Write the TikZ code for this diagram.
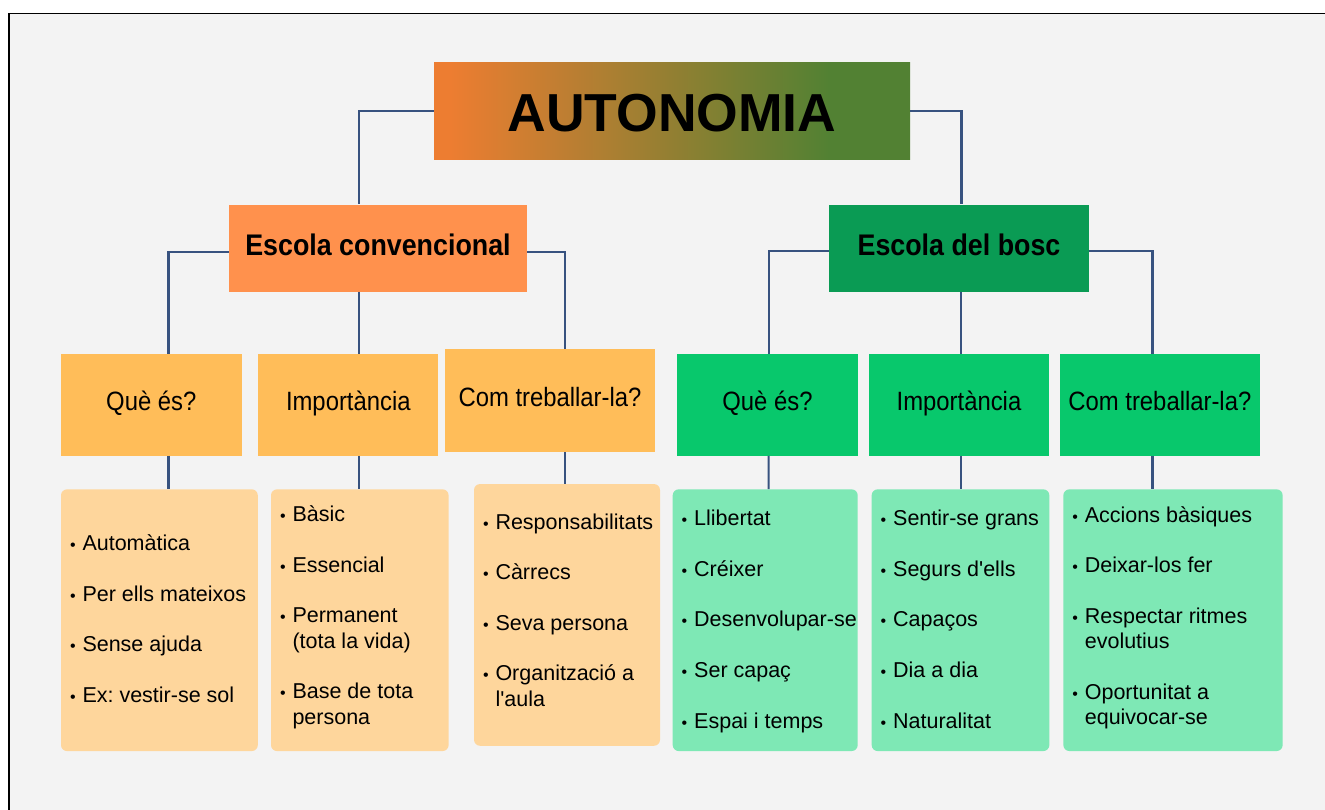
\documentclass[tikz,border=0pt]{standalone}
\usepackage{fontspec}
\setmainfont{Liberation Sans}
\newfontfamily\condfont[FakeStretch=0.9]{Liberation Sans}
\frenchspacing
\definecolor{bgc}{HTML}{F3F3F3}
\definecolor{conncol}{HTML}{37527F}
\definecolor{tor}{HTML}{ED7D31}
\definecolor{tgr}{HTML}{528133}
\definecolor{ecfill}{HTML}{FF914D}
\definecolor{ebfill}{HTML}{0A9B54}
\definecolor{otwo}{HTML}{FFBD59}
\definecolor{gtwo}{HTML}{08C86C}
\definecolor{othree}{HTML}{FED69C}
\definecolor{gthree}{HTML}{7EE8B5}
\pgfdeclarehorizontalshading{titleshade}{100bp}{color(0bp)=(tor); color(26.7bp)=(tor); color(66.5bp)=(tgr); color(100bp)=(tgr)}
\newcommand\bitem[1]{\makebox[12.5pt][l]{\fontsize{16}{16}\selectfont •}#1}
\newcommand\bcont[1]{\hspace*{12.5pt}#1}
\newcommand\topstr{\rule{0pt}{20pt}}
\tikzset{
  conn/.style={draw=conncol, line width=2.2pt},
  titlebox/.style={shading=titleshade, minimum width=476pt, minimum height=96.5pt, inner sep=0pt,
    font=\bfseries\fontsize{53.5}{55}\selectfont, text height=42pt, text depth=0.6pt},
  lvone/.style={inner sep=0pt, minimum height=87pt, font=\condfont\bfseries\fontsize{29.8}{31}\selectfont,
    text height=20.5pt, text depth=5pt},
  lvtwo/.style={inner sep=0pt, minimum height=102pt, font=\condfont\fontsize{26.5}{28}\selectfont,
    text height=19pt, text depth=8pt},
  boxthree/.style={rounded corners=6pt, inner sep=0pt, minimum height=261.7pt},
  items/.style={inner sep=0pt, anchor=north west, align=left, font=\fontsize{21.5}{25.3}\selectfont}
}
\begin{document}
\begin{tikzpicture}[x=1pt,y=-1pt]
\useasboundingbox (0,0) rectangle (1325,810);
\fill[white] (0,0) rectangle (1325,810);
\fill[bgc] (9,13.5) rectangle (1325,810);
\draw[black, line width=1.8pt] (9,810) -- (9,13.5) -- (1325,13.5);

% level 0
\node[titlebox] (title) at (672,111) {AUTONOMIA};
% level 1
\node[lvone, fill=ecfill, minimum width=298pt] (ec) at (378,248.2) {Escola convencional};
\node[lvone, fill=ebfill, minimum width=260pt] (eb) at (959,248.2) {Escola del bosc};
% level 2
\node[lvtwo, fill=otwo, minimum width=180.7pt] (qa) at (151.3,404.7) {Què és?};
\node[lvtwo, fill=otwo, minimum width=180.3pt] (ia) at (348.3,404.7) {Importància};
\node[lvtwo, fill=otwo, minimum width=210pt, minimum height=102.7pt] (ca) at (550,400.6) {Com treballar-la?};
\node[lvtwo, fill=gtwo, minimum width=181pt] (qb) at (767.5,404.7) {Què és?};
\node[lvtwo, fill=gtwo, minimum width=180pt] (ib) at (959,404.7) {Importància};
\node[lvtwo, fill=gtwo, minimum width=199.7pt] (cb) at (1159.9,404.7) {Com treballar-la?};
% level 3 boxes
\node[boxthree, fill=othree, minimum width=196.8pt] (da) at (159.4,620.2) {};
\node[boxthree, fill=othree, minimum width=177.6pt] (db) at (359.8,620.2) {};
\node[boxthree, fill=othree, minimum width=186pt] (dc) at (567,614.9) {};
\node[boxthree, fill=gthree, minimum width=185pt] (ga) at (765.2,620.2) {};
\node[boxthree, fill=gthree, minimum width=177.7pt] (gb) at (960.5,620.2) {};
\node[boxthree, fill=gthree, minimum width=219.3pt] (gc) at (1173,620.2) {};
% level 3 texts
\node[items] (dat) at ([xshift=9pt,yshift=-41.4pt]da.north west)
  {\topstr\bitem{Automàtica}\\[25.3pt]\bitem{Per ells mateixos}\\[25.3pt]\bitem{Sense ajuda}\\[25.3pt]\bitem{Ex: vestir-se sol}};
\node[items] (dbt) at ([xshift=9pt,yshift=-12.4pt]db.north west)
  {\topstr\bitem{Bàsic}\\[25.3pt]\bitem{Essencial}\\[25.3pt]\bitem{Permanent}\\\bcont{(tota la vida)}\\[25.3pt]\bitem{Base de tota}\\\bcont{persona}};
\node[items] (dct) at ([xshift=9pt,yshift=-25pt]dc.north west)
  {\topstr\bitem{Responsabilitats}\\[25.3pt]\bitem{Càrrecs}\\[25.3pt]\bitem{Seva persona}\\[25.3pt]\bitem{Organització a}\\\bcont{l\textquotesingle aula}};
\node[items] (gat) at ([xshift=9pt,yshift=-16.4pt]ga.north west)
  {\topstr\bitem{Llibertat}\\[25.3pt]\bitem{Créixer}\\[25.3pt]\bitem{Desenvolupar-se}\\[25.3pt]\bitem{Ser capaç}\\[25.3pt]\bitem{Espai i temps}};
\node[items] (gbt) at ([xshift=9pt,yshift=-16.4pt]gb.north west)
  {\topstr\bitem{Sentir-se grans}\\[25.3pt]\bitem{Segurs d\textquotesingle ells}\\[25.3pt]\bitem{Capaços}\\[25.3pt]\bitem{Dia a dia}\\[25.3pt]\bitem{Naturalitat}};
\node[items] (gct) at ([xshift=9pt,yshift=-13pt]gc.north west)
  {\topstr\bitem{Accions bàsiques}\\[25.3pt]\bitem{Deixar-los fer}\\[25.3pt]\bitem{Respectar ritmes}\\\bcont{evolutius}\\[25.3pt]\bitem{Oportunitat a}\\\bcont{equivocar-se}};

% connectors
\draw[conn] (title.west) -| ([xshift=-19.4pt]ec.north);
\draw[conn] (title.east) -| ([xshift=2.4pt]eb.north);
\draw[conn] ([yshift=-3.8pt]ec.west) -| ([xshift=17.2pt]qa.north);
\draw[conn] ([xshift=-19.4pt]ec.south) -- ([xshift=10.3pt]ia.north);
\draw[conn] ([yshift=-3.8pt]ec.east) -| ([xshift=14.7pt]ca.north);
\draw[conn] ([yshift=-2.5pt]eb.west) -| ([xshift=1.1pt]qb.north);
\draw[conn] ([xshift=2pt]eb.south) -- ([xshift=2pt]ib.north);
\draw[conn] ([yshift=-2.5pt]eb.east) -| ([xshift=-7.5pt]cb.north);
\draw[conn] ([xshift=17.2pt]qa.south) -- ([xshift=9.1pt]da.north);
\draw[conn] ([xshift=10.3pt]ia.south) -- ([xshift=-1.2pt]db.north);
\draw[conn] ([xshift=14.7pt]ca.south) -- ([xshift=-2.3pt]dc.north);
\draw[conn] ([xshift=1.1pt]qb.south) -- ([xshift=3.4pt]ga.north);
\draw[conn] ([xshift=2pt]ib.south) -- ([xshift=0.5pt]gb.north);
\draw[conn] ([xshift=-7.5pt]cb.south) -- ([xshift=-20.6pt]gc.north);
\end{tikzpicture}
\end{document}
